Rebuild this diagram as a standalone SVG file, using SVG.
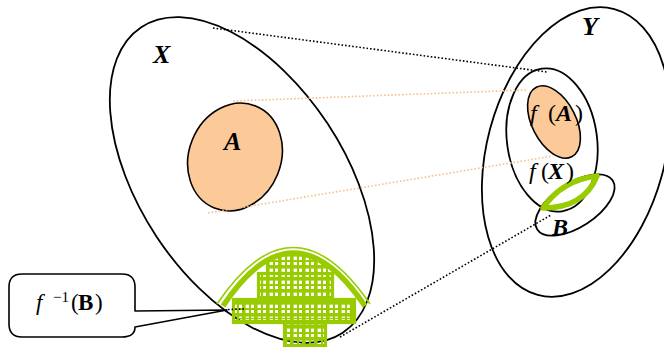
<svg xmlns="http://www.w3.org/2000/svg" width="664" height="347" viewBox="0 0 664 347">
  <style>
    .set { fill: none; stroke: #000; stroke-width: 1.8; }
    .peach { fill: #FBCA98; stroke: #000; stroke-width: 1.6; }
    .dotk { fill: none; stroke: #000; stroke-width: 1.6; stroke-dasharray: 1.6 2; }
    .doto { fill: none; stroke: #F9BF88; stroke-width: 1.6; stroke-dasharray: 1.6 2; }
    .lbl { font-family: "Liberation Serif", "Times New Roman", serif; fill: #000; }
    .bi { font-weight: bold; font-style: italic; }
    .it { font-style: italic; }
    .b { font-weight: bold; }
    .grn { fill: none; stroke: #99CC00; }
  </style>
  <defs>
    <!-- grid hatch used for the preimage region -->
    <pattern id="hatch" patternUnits="userSpaceOnUse" x="2" y="1" width="12" height="12">
      <rect x="0" y="0" width="3.6" height="12" fill="#99CC00"/>
      <rect x="0" y="0" width="12" height="3.6" fill="#99CC00"/>
      <rect x="7" y="0" width="2" height="12" fill="#99CC00"/>
      <rect x="0" y="7" width="12" height="2" fill="#99CC00"/>
    </pattern>
    <clipPath id="dome">
      <path d="M223,306 Q293,200 365,306 L365,347 L223,347 Z"/>
    </clipPath>
  </defs>

  <!-- domain X -->
  <g id="setX">
    <ellipse class="set" cx="242" cy="180" rx="183" ry="102.5" transform="rotate(56.6 242 180)"/>
    <text class="lbl bi" x="153" y="63" font-size="26">X</text>
  </g>

  <!-- subset A -->
  <g id="setA">
    <ellipse class="peach" cx="235" cy="157" rx="46" ry="55" transform="rotate(22 235 157)"/>
    <text class="lbl bi" x="224" y="150" font-size="26">A</text>
  </g>

  <!-- preimage of B -->
  <g id="preimageB">
    <g clip-path="url(#dome)">
      <path fill="url(#hatch)" d="M266,240 H328 V272 H334 V298 H356 V324 H327 V347 H283 V324 H232 V298 H257 V272 H266 Z"/>
    </g>
    <g class="grn" stroke-width="3.2">
      <rect x="233.5" y="299.5" width="121" height="23"/>
      <rect x="258.5" y="273.5" width="74" height="25"/>
      <rect x="284.5" y="323" width="41" height="24"/>
    </g>
    <g class="grn" stroke-width="1.4">
      <rect x="237.5" y="303.5" width="113" height="15"/>
      <rect x="262.5" y="277.5" width="66" height="20"/>
    </g>
    <path class="grn" stroke-width="5.5" d="M223,306 Q293,200 365,306"/>
    <path class="grn" stroke-width="1.6" d="M217,304 Q293,191 370,304"/>
  </g>

  <!-- codomain Y -->
  <g id="setY">
    <ellipse class="set" cx="576" cy="152" rx="89" ry="148" transform="rotate(15 576 152)"/>
    <text class="lbl bi" x="582" y="35" font-size="26">Y</text>
  </g>

  <!-- image f(X) -->
  <g id="imageX">
    <ellipse class="set" cx="552" cy="140" rx="45" ry="72" transform="rotate(-8 552 140)"/>
  </g>

  <!-- image f(A) -->
  <g id="imageA">
    <ellipse class="peach" cx="554" cy="122" rx="22" ry="39" transform="rotate(-27 554 122)"/>
  </g>

  <!-- set B -->
  <g id="setB">
    <ellipse class="set" cx="575" cy="205" rx="45" ry="22" transform="rotate(-33 575 205)"/>
    <path fill="none" stroke="#99CC00" stroke-width="5.5" stroke-linejoin="round" d="M543,208 Q562,180 597,176 Q584,208 543,208 Z"/>
    <text class="lbl bi" x="552" y="235" font-size="24">B</text>
  </g>

  <!-- labels of the images -->
  <g id="labelFA" class="lbl" font-size="24">
    <text class="it" x="530" y="121">f</text>
    <text x="548" y="121">(</text>
    <text class="bi" x="556" y="121">A</text>
    <text x="575" y="121">)</text>
  </g>
  <g id="labelFX" class="lbl" font-size="24">
    <text class="it" x="529" y="179">f</text>
    <text x="541" y="179">(</text>
    <text class="bi" x="548" y="179">X</text>
    <text x="566" y="179">)</text>
  </g>

  <!-- mapping guides -->
  <g id="connectors">
    <line class="dotk" x1="213" y1="28" x2="547" y2="72"/>
    <line class="dotk" x1="340" y1="337" x2="551" y2="215"/>
    <line class="doto" x1="233" y1="101" x2="527" y2="90"/>
    <line class="doto" x1="208" y1="213" x2="553" y2="156"/>
    <line class="dotk" x1="228" y1="309.5" x2="246" y2="309"/>
  </g>

  <!-- callout naming the preimage -->
  <g id="callout">
    <path fill="#fff" stroke="#000" stroke-width="1.6" stroke-linejoin="round"
      d="M22,274 H122 Q135,274 135,287 V311 L227,310 L135,327 Q135,337 122,337 H22 Q9,337 9,324 V287 Q9,274 22,274 Z"/>
    <g class="lbl" font-size="23">
      <text class="it" x="36" y="310">f</text>
      <text x="53" y="302" font-size="15">−1</text>
      <text x="71" y="310">(</text>
      <text class="b" x="78" y="310">B</text>
      <text x="95" y="310">)</text>
    </g>
  </g>
</svg>
